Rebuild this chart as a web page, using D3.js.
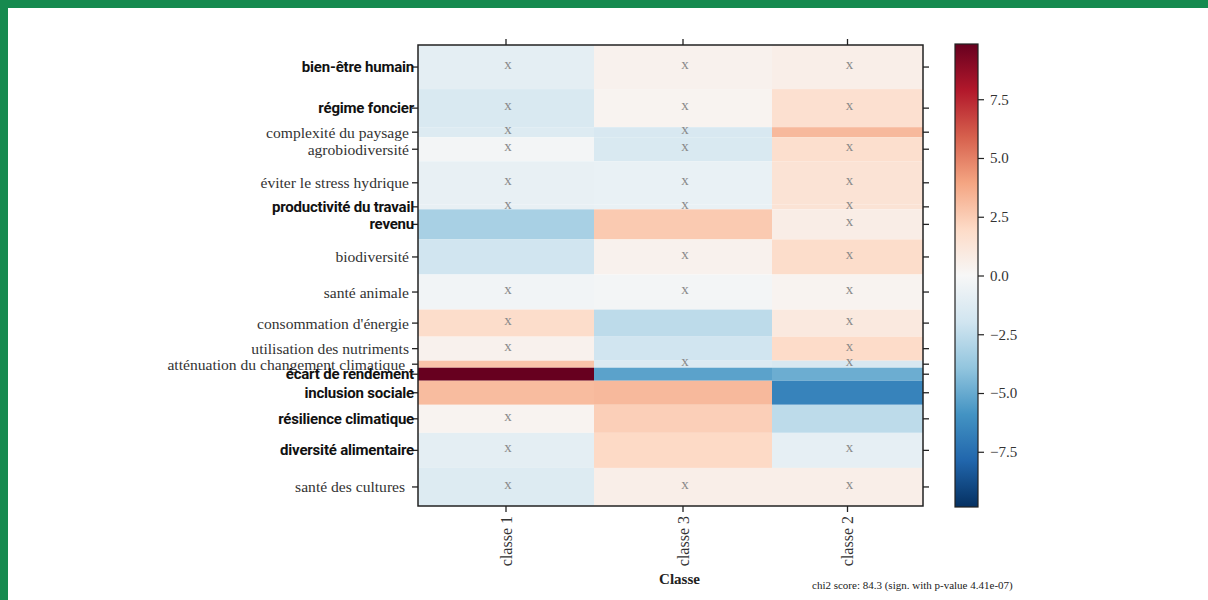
<!DOCTYPE html>
<html>
<head>
<meta charset="utf-8">
<script src="https://cdn.jsdelivr.net/npm/d3@7"></script>
<style>
  html, body { margin: 0; padding: 0; background: #fff; }
  svg { display: block; }
  text { white-space: pre; }
</style>
</head>
<body>
<svg id="chart" width="1208" height="600"></svg>
<script>
// ---------------- data ----------------
const rowLabels = [
  "bien-être humain", "régime foncier", "complexité du paysage", "agrobiodiversité",
  "éviter le stress hydrique", "productivité du travail", "revenu", "biodiversité",
  "santé animale", "consommation d'énergie", "utilisation des nutriments",
  "atténuation du changement climatique ", "écart de rendement", "inclusion sociale",
  "résilience climatique", "diversité alimentaire", "santé des cultures "
];
const rowCounts = [44, 38, 10, 24, 43, 5, 30, 35, 35, 27, 24, 7, 13, 24, 28, 35, 38];

const classLabels = ["classe 1", "classe 3", "classe 2"];
const classCounts = [176, 178, 151];

// standardized residuals per class (one value per row)
const residClasse1 = [-1.0, -1.55, -1.35, -0.2, -0.8, -0.8, -3.25, -1.95, -0.3, 1.8, 0.4, 2.8, 9.85, 3.1, 0.3, -1.0, -1.35];
const residClasse3 = [0.4, 0.3, -1.6, -1.55, -0.7, -0.7, 2.6, 0.4, -0.2, -2.6, -1.95, -1.4, -5.3, 3.2, 2.4, 2.0, 0.6];
const residClasse2 = [0.6, 1.6, 3.2, 1.7, 1.4, 1.4, 0.7, 1.8, 0.3, 1.0, 1.9, -1.6, -4.9, -6.6, -2.6, -0.9, 0.6];

// non-significant cells (marked with "x")
const nsClasse1 = [1, 1, 1, 1, 1, 1, 0, 0, 1, 1, 1, 0, 0, 0, 1, 1, 1];
const nsClasse3 = [1, 1, 1, 1, 1, 1, 0, 1, 1, 0, 0, 1, 0, 0, 0, 0, 1];
const nsClasse2 = [1, 1, 0, 1, 1, 1, 1, 1, 1, 1, 1, 1, 0, 0, 0, 1, 1];

const colorbarTicks = [7.5, 5.0, 2.5, 0.0, -2.5, -5.0, -7.5];
const colorLimit = 9.85;
const xAxisTitle = "Classe";
const footnote = "chi2 score: 84.3 (sign. with p-value 4.41e-07)";

// label styles (bold sans vs. regular serif)
const boldRows = new Set(["bien-être humain", "régime foncier", "productivité du travail", "revenu",
  "écart de rendement", "inclusion sociale", "résilience climatique", "diversité alimentaire"]);

// ---------------- drawing ----------------
const residuals = [residClasse1, residClasse3, residClasse2];
const nsMasks = [nsClasse1, nsClasse3, nsClasse2];

const svg = d3.select("#chart");
svg.append("rect").attr("width", 1208).attr("height", 600).attr("fill", "#fff");
svg.append("rect").attr("x", 0).attr("y", 0).attr("width", 1208).attr("height", 8).attr("fill", "#168a4f");
svg.append("rect").attr("x", 0).attr("y", 0).attr("width", 8).attr("height", 600).attr("fill", "#168a4f");

const plot = { left: 418, right: 923, top: 45, bottom: 506 };

const colCum = [0, ...d3.cumsum(classCounts)];
const rowCum = [0, ...d3.cumsum(rowCounts)];
const xs = d3.scaleLinear().domain([0, colCum[colCum.length - 1]]).range([plot.left, plot.right]);
const ys = d3.scaleLinear().domain([0, rowCum[rowCum.length - 1]]).range([plot.top, plot.bottom]);

const rdbu = ["#67001f", "#b2182b", "#d6604d", "#f4a582", "#fddbc7", "#f7f7f7",
              "#d1e5f0", "#92c5de", "#4393c3", "#2166ac", "#053061"];
const color = d3.scaleLinear()
  .domain(d3.range(11).map(i => colorLimit - i * (2 * colorLimit / 10)))
  .range(rdbu)
  .interpolate(d3.interpolateRgb)
  .clamp(true);

const cells = [];
classLabels.forEach((c, ci) => {
  rowLabels.forEach((r, ri) => {
    cells.push({ ci, ri, v: residuals[ci][ri], ns: nsMasks[ci][ri] });
  });
});

const g = svg.append("g");
g.selectAll("rect.cell").data(cells).join("rect")
  .attr("class", "cell")
  .attr("x", d => xs(colCum[d.ci]))
  .attr("y", d => ys(rowCum[d.ri]))
  .attr("width", d => xs(colCum[d.ci + 1]) - xs(colCum[d.ci]))
  .attr("height", d => ys(rowCum[d.ri + 1]) - ys(rowCum[d.ri]))
  .attr("fill", d => color(d.v));

const colCenter = i => (xs(colCum[i]) + xs(colCum[i + 1])) / 2;
const rowCenter = i => (ys(rowCum[i]) + ys(rowCum[i + 1])) / 2;

g.selectAll("text.ns").data(cells.filter(d => d.ns)).join("text")
  .attr("class", "ns")
  .attr("x", d => colCenter(d.ci) + 2)
  .attr("y", d => rowCenter(d.ri) - 3)
  .attr("text-anchor", "middle")
  .attr("dominant-baseline", "central")
  .attr("font-family", "Liberation Serif, serif")
  .attr("font-size", 15)
  .attr("fill", "#8a8a8a")
  .text("x");

// frame
svg.append("rect")
  .attr("x", plot.left).attr("y", plot.top)
  .attr("width", plot.right - plot.left).attr("height", plot.bottom - plot.top)
  .attr("fill", "none").attr("stroke", "#222").attr("stroke-width", 1.5);

// ticks
const tickStyle = sel => sel.attr("stroke", "#222").attr("stroke-width", 1.3);
rowLabels.forEach((r, i) => {
  const y = rowCenter(i);
  tickStyle(svg.append("line").attr("x1", plot.left - 6).attr("x2", plot.left).attr("y1", y).attr("y2", y));
  tickStyle(svg.append("line").attr("x1", plot.right).attr("x2", plot.right + 6).attr("y1", y).attr("y2", y));
  const bold = boldRows.has(r);
  svg.append("text")
    .attr("x", bold ? plot.left - 4 : plot.left - 9)
    .attr("y", y)
    .attr("text-anchor", "end")
    .attr("dominant-baseline", "central")
    .attr("font-family", bold ? "Roboto, sans-serif" : "Liberation Serif, serif")
    .attr("font-weight", bold ? 700 : 400)
    .attr("font-size", bold ? 15 : 15.6)
    .attr("letter-spacing", bold ? -0.2 : 0)
    .attr("fill", bold ? "#111" : "#333")
    .text(r);
});

classLabels.forEach((c, i) => {
  const x = colCenter(i);
  tickStyle(svg.append("line").attr("x1", x).attr("x2", x).attr("y1", plot.top - 6).attr("y2", plot.top));
  tickStyle(svg.append("line").attr("x1", x).attr("x2", x).attr("y1", plot.bottom).attr("y2", plot.bottom + 6));
  svg.append("text")
    .attr("transform", `translate(${x},${plot.bottom + 10}) rotate(-90)`)
    .attr("text-anchor", "end")
    .attr("dominant-baseline", "central")
    .attr("font-family", "Liberation Serif, serif")
    .attr("font-size", 16)
    .attr("fill", "#333")
    .text(c);
});

svg.append("text")
  .attr("x", (plot.left + plot.right) / 2 + 9).attr("y", 584)
  .attr("text-anchor", "middle")
  .attr("font-family", "Liberation Serif, serif")
  .attr("font-weight", 700)
  .attr("font-size", 15)
  .attr("fill", "#222")
  .text(xAxisTitle);

svg.append("text")
  .attr("x", 812).attr("y", 589)
  .attr("font-family", "Liberation Serif, serif")
  .attr("font-size", 11)
  .attr("fill", "#222")
  .text(footnote);

// colorbar
const cb = { x: 955, w: 23, top: 44, bottom: 507 };
const defs = svg.append("defs");
const grad = defs.append("linearGradient").attr("id", "cbgrad")
  .attr("x1", 0).attr("x2", 0).attr("y1", 0).attr("y2", 1);
rdbu.forEach((c, i) => grad.append("stop").attr("offset", i / 10).attr("stop-color", c));
svg.append("rect").attr("x", cb.x).attr("y", cb.top).attr("width", cb.w).attr("height", cb.bottom - cb.top)
  .attr("fill", "url(#cbgrad)").attr("stroke", "#222").attr("stroke-width", 1.2);

const cbScale = d3.scaleLinear().domain([-colorLimit, colorLimit]).range([cb.bottom, cb.top]);
const cbAxis = d3.axisRight(cbScale).tickValues(colorbarTicks).tickSize(6).tickPadding(6)
  .tickFormat(d => d3.format(".1f")(d).replace("-", "\u2212"));
const cbG = svg.append("g").attr("transform", `translate(${cb.x + cb.w},0)`).call(cbAxis);
cbG.select(".domain").remove();
cbG.selectAll(".tick line").attr("stroke", "#222").attr("stroke-width", 1.2);
cbG.selectAll(".tick text")
  .attr("font-family", "Liberation Serif, serif")
  .attr("font-size", 15)
  .attr("fill", "#333");
</script>
</body>
</html>
